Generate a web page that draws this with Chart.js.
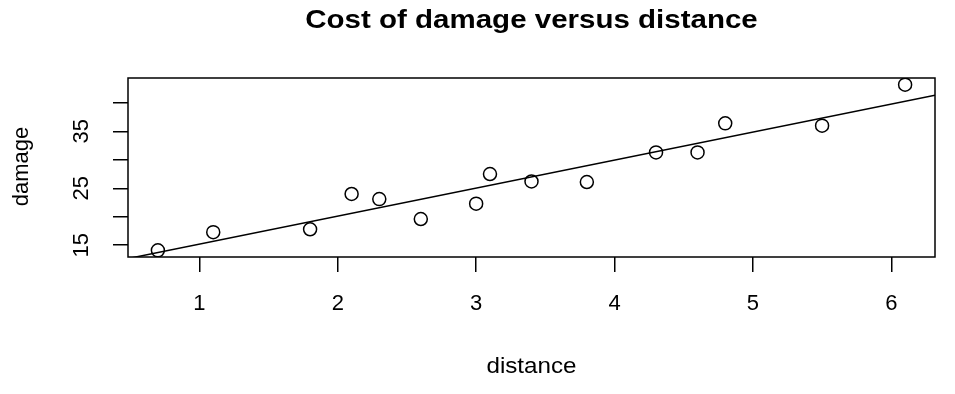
<!DOCTYPE html>
<html>
<head>
<meta charset="utf-8">
<script src="https://cdn.jsdelivr.net/npm/chart.js@4"></script>
<style>
  html, body { margin: 0; padding: 0; background: #fff; }
  #wrap { width: 955px; height: 394px; }
</style>
</head>
<body>
<div id="wrap"><canvas id="myChart" width="955" height="394"></canvas></div>
<script>
const distance = [3.4, 1.8, 4.6, 2.3, 3.1, 5.5, 0.7, 3.0, 2.6, 4.3, 2.1, 1.1, 6.1, 4.8, 3.8];
const damage = [26.2, 17.8, 31.3, 23.1, 27.5, 36.0, 14.1, 22.3, 19.6, 31.3, 24.0, 17.3, 43.2, 36.4, 26.1];
const xTicks = [1, 2, 3, 4, 5, 6];
const yTicks = [15, 20, 25, 30, 35, 40];
const yLabels = ['15', '', '25', '', '35', ''];
const fitIntercept = 10.278;
const fitSlope = 4.919;

const FONT = '"Liberation Sans", Arial, sans-serif';

// R style: data range extended by 4%
function padRange(arr) {
    const lo = Math.min(...arr), hi = Math.max(...arr);
    const d = (hi - lo) * 0.04;
    return [lo - d, hi + d];
}
const [xMin, xMax] = padRange(distance);
const [yMin, yMax] = padRange(damage);

const points = distance.map((d, i) => ({ x: d, y: damage[i] }));
const fitLine = [xMin, xMax].map(x => ({ x: x, y: fitIntercept + fitSlope * x }));

function wideText(c, txt, x, y, sx) {
    c.save();
    c.translate(x, y);
    c.scale(sx, 1);
    c.fillText(txt, 0, 0);
    c.restore();
}

const rText = {
    id: 'rText',
    afterDraw(chart) {
        const c = chart.ctx;
        const a = chart.chartArea;
        const xs = chart.scales.x, ys = chart.scales.y;
        const cx = (a.left + a.right) / 2;
        c.save();
        // box
        c.strokeStyle = '#000';
        c.lineWidth = 1.5;
        c.strokeRect(a.left, a.top, a.right - a.left, a.bottom - a.top);
        c.fillStyle = '#000';
        c.textAlign = 'center';
        c.textBaseline = 'alphabetic';
        // title
        c.font = 'bold 25px ' + FONT;
        wideText(c, 'Cost of damage versus distance', cx, 28, 1.18);
        // x tick labels
        c.font = '22px ' + FONT;
        xTicks.forEach(v => c.fillText(String(v), xs.getPixelForValue(v), 310));
        // x title
        wideText(c, 'distance', cx, 373, 1.1);
        // y tick labels, rotated
        yTicks.forEach((v, i) => {
            if (!yLabels[i]) return;
            c.save();
            c.translate(88, ys.getPixelForValue(v));
            c.rotate(-Math.PI / 2);
            c.fillText(yLabels[i], 0, 0);
            c.restore();
        });
        // y title
        c.save();
        c.translate(28, (a.top + a.bottom) / 2 - 1);
        c.rotate(-Math.PI / 2);
        c.fillText('damage', 0, 0);
        c.restore();
        c.restore();
    }
};

const config = {
    type: 'scatter',
    data: {
        datasets: [{
            label: 'damage',
            data: points,
            pointStyle: 'circle',
            pointRadius: 6.5,
            pointHoverRadius: 6.5,
            borderColor: '#000',
            backgroundColor: 'rgba(0,0,0,0)',
            borderWidth: 1.5
        }, {
            label: 'fit',
            type: 'line',
            data: fitLine,
            borderColor: '#000',
            borderWidth: 1.5,
            pointRadius: 0,
            fill: false
        }]
    },
    options: {
        responsive: false,
        animation: false,
        events: [],
        layout: { padding: { left: 0, top: 78, right: 20, bottom: 0 } },
        plugins: {
            legend: { display: false },
            tooltip: { enabled: false }
        },
        scales: {
            x: {
                type: 'linear',
                min: xMin,
                max: xMax,
                afterBuildTicks: s => { s.ticks = xTicks.map(v => ({ value: v })); },
                afterFit: s => { s.height = 394 - 257; },
                ticks: { display: false },
                border: { display: false },
                grid: { drawOnChartArea: false, drawTicks: true, tickLength: 15, color: '#000', lineWidth: 1.5 }
            },
            y: {
                type: 'linear',
                min: yMin,
                max: yMax,
                afterBuildTicks: s => { s.ticks = yTicks.map(v => ({ value: v })); },
                afterFit: s => { s.width = 128; },
                ticks: { display: false },
                border: { display: false },
                grid: { drawOnChartArea: false, drawTicks: true, tickLength: 15, color: '#000', lineWidth: 1.5 }
            }
        }
    },
    plugins: [rText]
};

const myChart = new Chart(document.getElementById('myChart').getContext('2d'), config);
</script>
</body>
</html>
